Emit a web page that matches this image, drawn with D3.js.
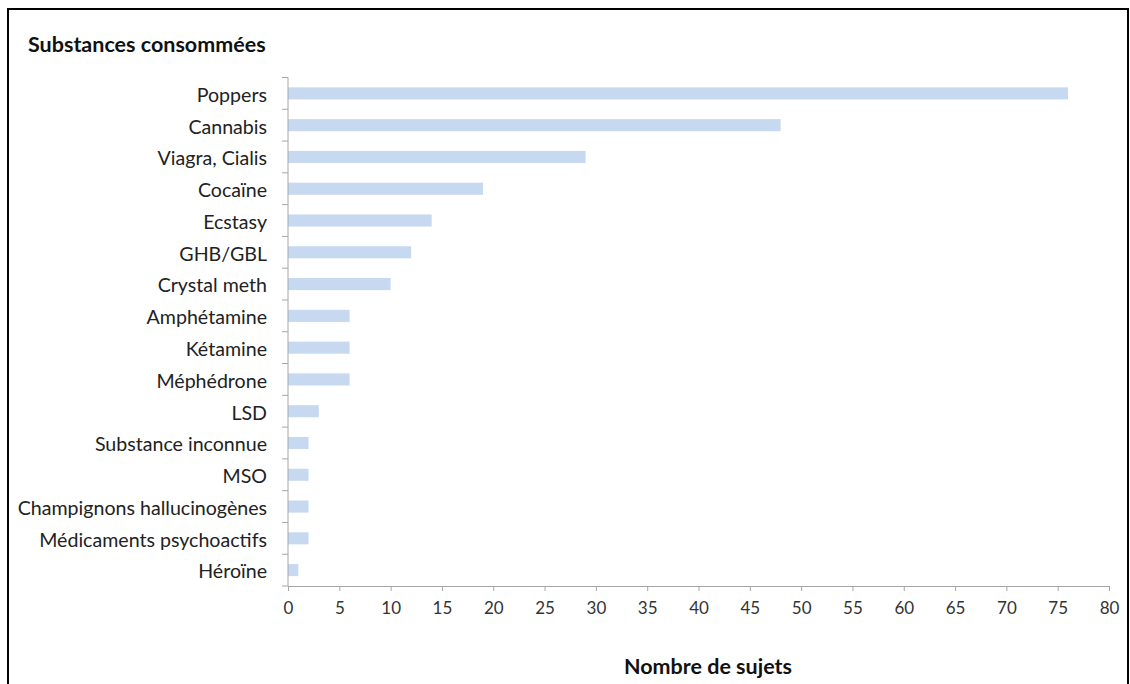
<!DOCTYPE html>
<html><head><meta charset="utf-8">
<script src="https://cdn.jsdelivr.net/npm/d3@7"></script>
<style>body{margin:0;background:#fff;}svg{display:block;}</style>
</head><body>
<svg id="c" width="1130" height="684"></svg>
<script>
const categories = ["Poppers","Cannabis","Viagra, Cialis","Cocaïne","Ecstasy","GHB/GBL","Crystal meth","Amphétamine","Kétamine","Méphédrone","LSD","Substance inconnue","MSO","Champignons hallucinogènes","Médicaments psychoactifs","Héroïne"];
const values = [76,48,29,19,14,12,10,6,6,6,3,2,2,2,2,1];
const xTicks = [0,5,10,15,20,25,30,35,40,45,50,55,60,65,70,75,80];
const title = "Substances consommées";
const xTitle = "Nombre de sujets";

const svg = d3.select("#c");
const font = "Lato, 'Open Sans', sans-serif";
const x = d3.scaleLinear().domain([0,80]).range([288,1109]);
const y = d3.scaleBand().domain(categories).range([77.5,586]).paddingInner(0.62).paddingOuter(0.31);

// border
svg.append("path").attr("d","M8,684 V9 H1128 V684").attr("fill","none").attr("stroke","#000").attr("stroke-width",2);

svg.append("text").attr("x",28).attr("y",52).text(title)
  .attr("font-family",font).attr("font-weight","bold").attr("font-size",21.5).attr("fill","#111");

svg.selectAll("rect.bar").data(values).enter().append("rect").attr("class","bar")
  .attr("x",x(0)).attr("y",(d,i)=>y(categories[i]))
  .attr("width",d=>x(d)-x(0)).attr("height",y.bandwidth()).attr("fill","#c6d9f1");

// y axis with boundary ticks
const yb = d3.scaleBand().domain(categories).range([77.5,586]);
const ya = svg.append("g");
ya.append("line").attr("x1",288).attr("x2",288).attr("y1",77.5).attr("y2",586).attr("stroke","#a6a6a6");
const bounds = categories.map(c=>yb(c)).concat([586]);
ya.selectAll("line.t").data(bounds).enter().append("line").attr("class","t")
  .attr("x1",282).attr("x2",288).attr("y1",d=>d).attr("y2",d=>d).attr("stroke","#a6a6a6");
ya.selectAll("text").data(categories).enter().append("text")
  .attr("x",267).attr("y",d=>yb(d)+yb.bandwidth()/2+1.5).attr("dy","0.35em")
  .attr("text-anchor","end").text(d=>d)
  .attr("font-family",font).attr("font-size",19.6).attr("fill","#222");

// x axis
const xa = svg.append("g").attr("transform","translate(0,586)")
  .call(d3.axisBottom(x).tickValues(xTicks).tickSize(5).tickSizeOuter(0).tickPadding(11));
xa.select(".domain").attr("stroke","#a6a6a6");
xa.selectAll(".tick line").attr("stroke","#a6a6a6");
xa.selectAll(".tick text").attr("font-family",font).attr("font-size",17).attr("fill","#333");

svg.append("text").attr("x",708).attr("y",674).attr("text-anchor","middle").text(xTitle)
  .attr("font-family",font).attr("font-weight","bold").attr("font-size",21.5).attr("fill","#111");
</script>
</body></html>
